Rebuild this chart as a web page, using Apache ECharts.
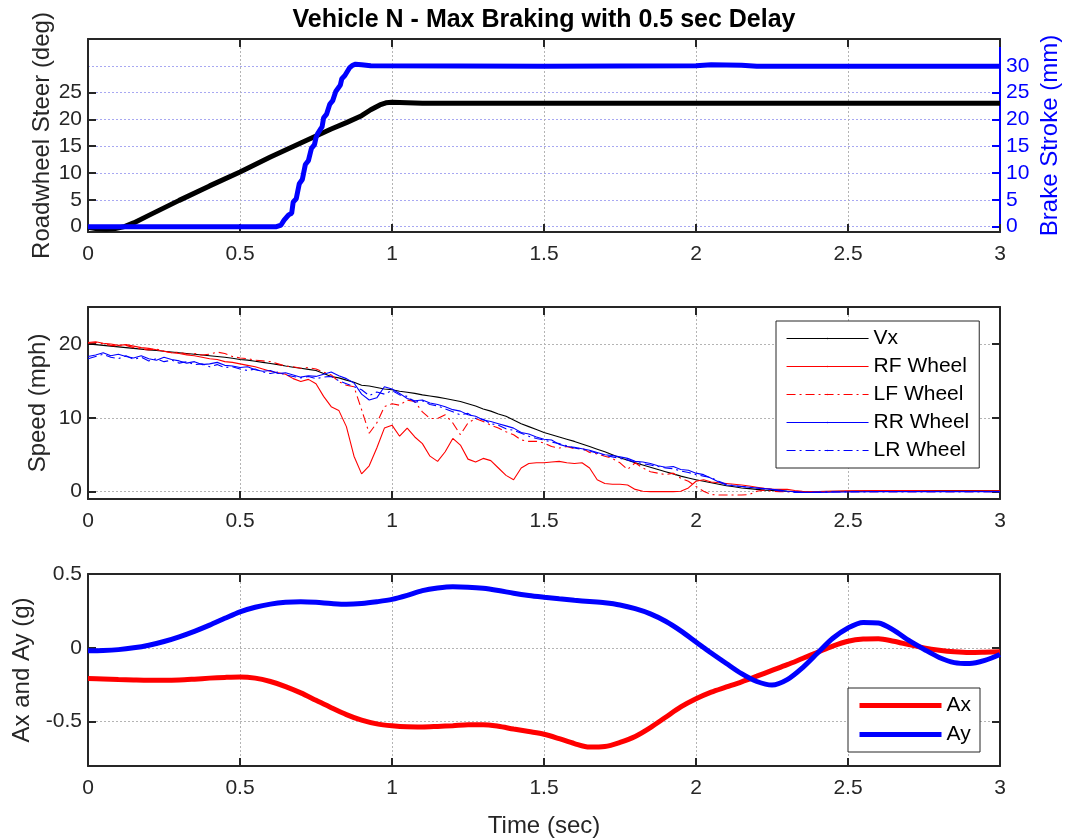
<!DOCTYPE html>
<html><head><meta charset="utf-8">
<script src="https://cdn.jsdelivr.net/npm/echarts@6/dist/echarts.min.js"></script>
<style>html,body{margin:0;padding:0;background:#fff}#c{width:1078px;height:839px}</style>
</head><body><div id="c"></div>
<script>
const titleText = 'Vehicle N - Max Braking with 0.5 sec Delay';
const xTickInterval = 0.5;

// ---- Top panel ----
const steerTime = [0,0.03,0.06,0.09,0.12,0.15,0.2,0.3,0.4,0.5,0.6,0.7,0.75,0.8,0.85,0.9,0.93,0.96,0.98,1.0,1.1,1.5,2.0,2.5,3.0];
const steer = [-0.1,-0.4,-0.5,-0.35,0,0.7,2.1,4.9,7.6,10.2,13.0,15.6,16.9,18.2,19.4,20.7,21.8,22.7,23.1,23.2,23.0,23.0,23.0,23.0,23.0];
const brakeTime = [0,0.62,0.635,0.645,0.66,0.67,0.675,0.685,0.69,0.695,0.705,0.71,0.715,0.725,0.73,0.735,0.745,0.75,0.755,0.765,0.77,0.775,0.785,0.79,0.795,0.805,0.81,0.815,0.825,0.83,0.835,0.845,0.85,0.86,0.87,0.88,0.9,0.93,1.5,2.0,2.05,2.15,2.2,3.0];
const brake = [0,0,0.3,1.2,2.2,2.5,4.6,5.2,5.4,8.0,8.8,9.1,11.6,12.3,12.6,14.6,15.3,16.6,17.3,18.2,18.6,20.3,21.0,21.3,22.8,23.5,23.8,25.2,26.0,26.4,27.6,28.2,28.5,29.6,30.1,30.3,30.2,30.0,29.9,30.0,30.2,30.1,29.9,29.9];
const steerTicks = [0,5,10,15,20,25];
const brakeTicks = [0,5,10,15,20,25,30];

// ---- Middle panel ----
const speedTime = [
0,0.025,0.05,0.075,0.1,0.125,0.15,0.175,0.2,0.225,
0.25,0.275,0.3,0.325,0.35,0.375,0.4,0.425,0.45,0.475,
0.5,0.525,0.55,0.575,0.6,0.625,0.65,0.675,0.7,0.725,
0.75,0.775,0.8,0.825,0.85,0.875,0.9,0.925,0.95,0.975,
1,1.025,1.05,1.075,1.1,1.125,1.15,1.175,1.2,1.225,
1.25,1.275,1.3,1.325,1.35,1.375,1.4,1.425,1.45,1.475,
1.5,1.525,1.55,1.575,1.6,1.625,1.65,1.675,1.7,1.725,
1.75,1.775,1.8,1.825,1.85,1.875,1.9,1.925,1.95,1.975,
2,2.025,2.05,2.075,2.1,2.125,2.15,2.175,2.2,2.225,
2.25,2.275,2.3,2.325,2.35,2.375,2.4,
2.5,2.6,2.7,2.8,2.9,3];
const vx = [
20.0,19.9,19.8,19.7,19.6,19.5,19.4,19.3,19.2,19.1,
19.0,18.9,18.8,18.7,18.6,18.5,18.4,18.3,18.2,18.05,
17.9,17.8,17.65,17.5,17.35,17.2,17.0,16.85,16.7,16.55,
16.4,16.0,15.6,15.4,15.1,14.8,14.4,14.3,14.1,13.9,
13.8,13.6,13.45,13.3,13.1,12.95,12.8,12.6,12.4,12.2,
11.9,11.6,11.2,10.9,10.5,10.2,9.7,9.2,8.8,8.4,
8.0,7.7,7.4,7.1,6.8,6.45,6.1,5.75,5.4,5.0,
4.6,4.25,3.9,3.6,3.3,3.0,2.7,2.4,2.1,1.85,
1.6,1.4,1.2,1.0,0.8,0.65,0.5,0.4,0.3,0.2,
0.15,0.1,0.05,0.0,0.0,0.0,0.0,
0.05,0.1,0.1,0.15,0.15,0.1];
const rfWheel = [
20.2,20.3,20.1,20.0,19.8,19.9,19.7,19.5,19.4,19.2,
19.0,18.8,18.7,18.5,18.4,18.2,18.0,17.9,17.6,17.5,
17.3,17.1,16.9,16.6,16.3,16.1,15.9,15.3,14.9,15.2,
14.6,12.9,11.5,11.0,8.8,4.8,2.4,3.5,5.9,8.6,
9.0,7.5,8.6,7.4,6.5,4.8,4.1,5.4,7.2,6.3,
4.4,4.0,4.5,4.2,3.2,2.2,1.6,3.2,3.8,3.9,
3.9,4.0,4.1,3.9,3.8,3.9,3.2,1.6,1.1,1.0,
1.0,0.9,0.3,0.05,0,0,0,0,0.05,0.5,
1.4,1.6,1.3,1.2,1.1,1.0,0.9,0.75,0.6,0.45,
0.35,0.3,0.3,0.15,0.05,0,0,
0.1,0.15,0.15,0.1,0.1,0.1];
const lfWheel = [
20.1,20.2,20.0,19.8,19.7,19.8,19.5,19.3,19.2,19.3,
19.0,18.8,18.9,18.6,18.7,18.5,18.6,18.9,18.7,18.3,
18.1,18.0,17.8,17.7,17.6,17.3,17.0,16.9,16.7,16.8,
16.6,16.2,15.8,14.9,14.4,14.2,11.1,7.9,9.3,11.5,
11.9,11.7,12.4,12.2,10.8,9.9,9.9,10.4,9.3,7.7,
9.3,9.9,9.5,9.0,8.6,8.1,7.7,7.0,6.8,6.8,
6.6,6.1,5.9,6.1,5.8,5.9,5.3,5.1,4.8,4.5,
3.9,3.0,3.9,3.2,2.7,2.5,2.3,2.5,1.8,1.4,
0.7,0.05,-0.4,-0.45,-0.45,-0.45,-0.45,-0.4,0.05,0.2,
0.05,0,0,0,0,0,0,
0,0,0,0,0,0];
const rrWheel = [
18.3,18.5,18.8,18.4,18.6,18.3,18.1,18.4,18.0,17.8,
18.2,17.9,17.7,17.4,17.6,17.2,17.3,17.5,17.1,17.0,
16.8,16.9,16.5,16.3,16.4,16.0,16.1,15.8,15.5,15.7,
15.6,15.9,16.2,15.7,15.3,14.7,13.2,12.4,12.7,14.2,
13.9,13.3,12.6,12.3,12.4,12.0,11.8,11.5,11.1,10.9,
10.4,10.2,9.7,9.5,9.2,8.9,8.6,8.0,7.8,7.4,
7.1,7.0,6.4,6.1,6.0,5.8,5.6,5.3,5.0,4.9,
4.7,4.5,4.1,4.0,3.8,3.5,3.3,3.4,3.0,2.9,
2.5,2.3,1.8,1.3,0.9,0.8,0.7,0.6,0.5,0.4,
0.3,0.2,0.05,0,-0.1,-0.1,-0.1,
-0.05,0,0,0,0,0];
const lrWheel = [
18.0,18.3,18.6,18.2,18.0,18.4,17.9,18.2,17.7,18.0,
17.6,17.8,17.4,17.6,17.2,17.3,16.9,17.2,16.8,16.9,
16.6,16.4,16.6,16.2,16.0,16.2,15.8,15.6,15.4,15.6,
15.3,15.5,15.6,15.0,14.6,14.2,13.8,13.0,13.5,13.2,
13.7,13.1,12.9,12.1,12.3,11.8,11.6,11.2,10.8,10.4,
10.6,9.9,9.8,9.2,9.0,8.5,8.3,7.9,7.5,7.2,
7.0,6.7,6.5,6.2,5.9,5.7,5.5,5.2,4.9,4.7,
4.5,4.3,4.0,3.8,3.6,3.4,3.2,3.1,2.8,2.6,
2.3,2.1,1.9,1.4,1.0,0.8,0.7,0.6,0.5,0.35,
0.3,0.1,0,-0.1,-0.1,-0.1,-0.05,
0,0,0,0,0,0];
const speedTicks = [0,10,20];

// ---- Bottom panel ----
const accTime = [
0,0.05,0.1,0.15,0.2,0.25,0.3,0.35,0.4,0.45,
0.5,0.55,0.6,0.65,0.7,0.75,0.8,0.85,0.9,0.95,
1.0,1.05,1.1,1.15,1.2,1.25,1.3,1.35,1.4,1.45,
1.5,1.55,1.6,1.65,1.7,1.75,1.8,1.85,1.9,1.95,
2.0,2.05,2.1,2.15,2.2,2.25,2.3,2.35,2.4,2.45,
2.5,2.55,2.6,2.65,2.7,2.75,2.8,2.85,2.9,2.95,
3.0];
const ax = [
-0.208,-0.211,-0.215,-0.218,-0.22,-0.22,-0.218,-0.212,-0.205,-0.2,
-0.197,-0.205,-0.228,-0.262,-0.305,-0.355,-0.405,-0.452,-0.49,-0.515,
-0.528,-0.535,-0.536,-0.532,-0.527,-0.521,-0.52,-0.531,-0.55,-0.567,
-0.585,-0.615,-0.648,-0.672,-0.668,-0.64,-0.6,-0.54,-0.47,-0.4,
-0.345,-0.3,-0.265,-0.23,-0.192,-0.153,-0.114,-0.072,-0.03,0.012,
0.045,0.06,0.062,0.045,0.022,0.0,-0.016,-0.027,-0.032,-0.03,
-0.027];
const ay = [
-0.02,-0.018,-0.012,0.0,0.018,0.043,0.075,0.112,0.154,0.2,
0.244,0.275,0.296,0.308,0.312,0.308,0.3,0.295,0.3,0.312,
0.328,0.355,0.387,0.405,0.414,0.411,0.403,0.388,0.37,0.355,
0.343,0.332,0.322,0.314,0.305,0.29,0.265,0.23,0.18,0.115,
0.04,-0.035,-0.106,-0.175,-0.228,-0.252,-0.215,-0.135,-0.035,0.065,
0.135,0.172,0.168,0.12,0.05,-0.01,-0.065,-0.1,-0.106,-0.085,
-0.045];
const accTicks = [-0.5,0,0.5];

const FONT = "'Liberation Sans', Arial, Helvetica, sans-serif";
const AX = '#262626';
const pairs = (t, v) => t.map((x, i) => [x, v[i]]);

const gridLineGray = {show:true, lineStyle:{color:'#b4b4b4', width:1, type:[2,2]}};
const gridLineBlue = {show:true, lineStyle:{color:'#a8a8f2', width:1, type:[2,2]}};
const tickStyle = (c) => ({show:true, inside:true, length:8, lineStyle:{color:c, width:2}});
const lineStyle = (c) => ({show:true, onZero:false, lineStyle:{color:c, width:2}});

function xBottom(gi, extra) {
  return Object.assign({type:'value', gridIndex:gi, position:'bottom', min:0, max:3, interval:xTickInterval,
    axisLine:lineStyle(AX), axisTick:tickStyle(AX),
    axisLabel:{show:true, margin:12, fontSize:21, color:AX, fontFamily:FONT},
    splitLine:gridLineGray}, extra || {});
}
function xTop(gi) {
  return {type:'value', gridIndex:gi, position:'top', min:0, max:3, interval:xTickInterval,
    axisLine:lineStyle(AX), axisTick:tickStyle(AX), axisLabel:{show:false}, splitLine:{show:false}};
}
function yAxisDef(gi, pos, min, max, ticks, color, labels, split, name, gap) {
  const o = {type:'value', gridIndex:gi, position:pos, min:min, max:max,
    axisLine:lineStyle(color),
    axisTick:Object.assign(tickStyle(color), {customValues:ticks}),
    axisLabel:{show:labels, customValues:ticks, margin:6, fontSize:21, color:color, fontFamily:FONT},
    splitLine: split || {show:false}};
  if (name) {
    o.name = name; o.nameLocation = 'middle'; o.nameGap = gap; o.nameRotate = 90;
    o.nameMoveOverlap = false;
    o.nameTextStyle = {fontSize:24, color:color, fontFamily:FONT};
  }
  return o;
}

const legendBase = {orient:'vertical', itemWidth:82, itemHeight:2, selectedMode:false,
  backgroundColor:'#fff', borderColor:AX, borderWidth:1, borderRadius:0,
  lineStyle:{width:'inherit'}, textStyle:{fontSize:21, color:'#000', fontFamily:FONT}};

const thin = 1.1;
const option = {
  animation:false,
  backgroundColor:'#fff',
  title:{text:titleText, left:544, top:8, textAlign:'center', padding:0,
    textStyle:{fontSize:25, fontWeight:'bold', color:'#000', fontFamily:FONT}},
  grid:[
    {left:88, right:78, top:39, height:193},
    {left:88, right:78, top:307, height:192},
    {left:88, right:78, top:574, height:192}
  ],
  xAxis:[
    xBottom(0), xTop(0),
    xBottom(1), xTop(1),
    xBottom(2, {name:'Time (sec)', nameLocation:'middle', nameGap:48, nameMoveOverlap:false,
      nameTextStyle:{fontSize:24, color:AX, fontFamily:FONT}}), xTop(2)
  ],
  yAxis:[
    yAxisDef(0, 'left', -1, 35, steerTicks, AX, true, null, 'Roadwheel Steer (deg)', 34),
    yAxisDef(0, 'right', -1, 35, brakeTicks, '#0000ff', true, gridLineBlue, 'Brake Stroke (mm)', 38),
    yAxisDef(1, 'left', -1, 25, speedTicks, AX, true, gridLineGray, 'Speed (mph)', 38),
    yAxisDef(1, 'right', -1, 25, speedTicks, AX, false, null, null, 0),
    yAxisDef(2, 'left', -0.8, 0.5, accTicks, AX, true, gridLineGray, 'Ax and Ay (g)', 54),
    yAxisDef(2, 'right', -0.8, 0.5, accTicks, AX, false, null, null, 0)
  ],
  legend:[
    Object.assign({}, legendBase, {data:['Vx','RF Wheel','LF Wheel','RR Wheel','LR Wheel'], left:776, top:321,
      padding:[7,10,7,10], itemGap:7}),
    Object.assign({}, legendBase, {data:['Ax','Ay'], left:848, top:688, padding:[7,9,7,9], itemGap:8})
  ],
  series:[
    {name:'Steer', type:'line', xAxisIndex:0, yAxisIndex:0, data:pairs(steerTime, steer), symbol:'none',
     lineStyle:{color:'#000', width:5}, itemStyle:{color:'#000'}, z:3},
    {name:'Brake', type:'line', xAxisIndex:0, yAxisIndex:1, data:pairs(brakeTime, brake), symbol:'none',
     lineStyle:{color:'#0000ff', width:5}, itemStyle:{color:'#0000ff'}, z:4},
    {name:'Vx', type:'line', xAxisIndex:2, yAxisIndex:2, data:pairs(speedTime, vx), symbol:'none',
     lineStyle:{color:'#000', width:thin}, itemStyle:{color:'#000'}},
    {name:'RF Wheel', type:'line', xAxisIndex:2, yAxisIndex:2, data:pairs(speedTime, rfWheel), symbol:'none',
     lineStyle:{color:'#ff0000', width:thin}, itemStyle:{color:'#ff0000'}},
    {name:'LF Wheel', type:'line', xAxisIndex:2, yAxisIndex:2, data:pairs(speedTime, lfWheel), symbol:'none',
     lineStyle:{color:'#ff0000', width:thin, type:[9,4,2,4]}, itemStyle:{color:'#ff0000'}},
    {name:'RR Wheel', type:'line', xAxisIndex:2, yAxisIndex:2, data:pairs(speedTime, rrWheel), symbol:'none',
     lineStyle:{color:'#0000ff', width:thin}, itemStyle:{color:'#0000ff'}},
    {name:'LR Wheel', type:'line', xAxisIndex:2, yAxisIndex:2, data:pairs(speedTime, lrWheel), symbol:'none',
     lineStyle:{color:'#0000ff', width:thin, type:[9,4,2,4]}, itemStyle:{color:'#0000ff'}},
    {name:'Ax', type:'line', xAxisIndex:4, yAxisIndex:4, data:pairs(accTime, ax), symbol:'none', smooth:0.3,
     lineStyle:{color:'#ff0000', width:5}, itemStyle:{color:'#ff0000'}},
    {name:'Ay', type:'line', xAxisIndex:4, yAxisIndex:4, data:pairs(accTime, ay), symbol:'none', smooth:0.3,
     lineStyle:{color:'#0000ff', width:5}, itemStyle:{color:'#0000ff'}}
  ]
};
const chart = echarts.init(document.getElementById('c'));
chart.setOption(option);
</script>
</body></html>
